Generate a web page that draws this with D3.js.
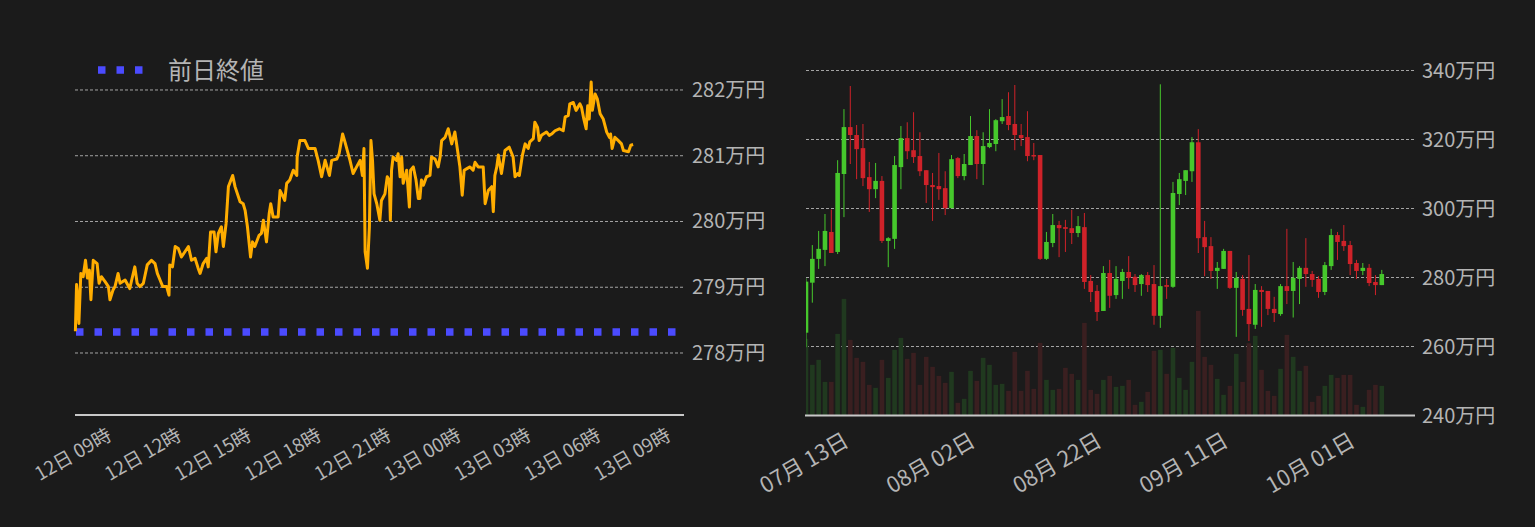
<!DOCTYPE html>
<html><head><meta charset="utf-8">
<script src="https://cdn.jsdelivr.net/npm/d3@7"></script>
<style>
html,body{margin:0;padding:0;background:#1b1b1b;}
svg{display:block;}
text{font-family:"Noto Sans CJK JP","Noto Sans",sans-serif;fill:#b4b4b4;}
</style></head>
<body><svg id="c" width="1535" height="527"></svg>
<script>
// ---------- Left chart: intraday line (minutes since 12日 00:00) ----------
const lineMinutes = [446,449,452,455,460,466,472,477,482,486,492,502,507,513,522,531,535,543,548,556,561,574,586,591,599,605,612,621,631,642,651,657,664,671,681,687,689,696,703,711,719,728,737,745,754,762,767,775,784,788,794,803,808,814,822,827,834,840,851,857,870,878,883,889,897,902,908,919,925,930,938,945,949,955,968,973,979,985,990,998,1007,1016,1017,1024,1037,1046,1063,1071,1080,1089,1100,1106,1119,1125,1134,1140,1153,1161,1170,1179,1185,1189,1192,1198,1203,1207,1211,1215,1222,1230,1234,1243,1249,1254,1257,1260,1264,1273,1277,1282,1286,1290,1299,1306,1309,1316,1323,1329,1333,1337,1342,1350,1359,1363,1372,1380,1385,1389,1398,1406,1415,1423,1430,1436,1442,1447,1453,1462,1470,1475,1483,1496,1501,1509,1518,1522,1526,1531,1535,1543,1552,1563,1573,1578,1585,1589,1597,1604,1612,1616,1625,1629,1636,1640,1646,1659,1666,1672,1681,1692,1702,1707,1715,1719,1728,1735,1745,1749,1755,1761,1765,1769,1774,1777,1784,1790,1797,1805,1814,1821,1824,1828,1835,1844,1852,1857,1870,1876,1882];
const linePrices = [278.33,279.04,278.86,278.45,279.21,279.16,279.41,279.14,279.26,278.81,279.41,279.36,279.06,279.16,279.09,279.01,278.81,278.96,279.01,279.21,279.06,279.11,278.98,279.11,279.31,279.06,279.01,279.06,279.34,279.41,279.36,279.21,279.11,279.01,279.01,278.88,279.34,279.31,279.62,279.59,279.46,279.54,279.62,279.41,279.44,279.29,279.21,279.36,279.44,279.31,279.84,279.84,279.54,279.82,279.92,279.62,279.97,280.53,280.70,280.53,280.30,280.27,280.17,279.92,279.46,279.69,279.62,279.79,279.82,280.02,279.69,280.12,280.27,280.07,280.07,280.47,280.40,280.32,280.58,280.63,280.78,280.70,280.98,281.23,281.23,281.11,281.11,280.93,280.68,280.93,280.70,280.93,280.95,281.03,281.33,281.21,280.93,280.73,280.83,280.93,280.70,281.11,279.54,279.29,279.92,281.23,280.93,280.42,280.27,280.02,280.32,280.42,280.68,280.63,280.02,280.78,280.98,280.93,281.03,280.68,280.98,280.58,280.78,280.22,280.78,280.83,280.63,280.35,280.35,280.63,280.55,280.68,280.70,280.98,280.95,280.83,280.98,281.23,281.28,281.41,281.18,281.36,281.08,280.83,280.40,280.78,280.80,280.83,280.78,280.90,280.83,280.83,280.27,280.47,280.53,280.15,280.70,280.83,281.01,280.73,281.08,281.13,280.98,280.68,280.73,280.70,281.01,281.18,281.11,281.21,281.26,281.51,281.43,281.23,281.31,281.36,281.31,281.33,281.38,281.41,281.38,281.59,281.61,281.79,281.81,281.69,281.79,281.74,281.56,281.41,281.76,281.56,282.12,281.69,281.94,281.86,281.64,281.56,281.36,281.28,281.33,281.11,281.28,281.23,281.18,281.08,281.06,281.16,281.17];
const prevClose = 278.32;
const legendLabel = "前日終値";
const leftYTicks = [278, 279, 280, 281, 282];
const leftXTicks = ["2022-10-12T09:00","2022-10-12T12:00","2022-10-12T15:00","2022-10-12T18:00","2022-10-12T21:00","2022-10-13T00:00","2022-10-13T03:00","2022-10-13T06:00","2022-10-13T09:00"];

// ---------- Right chart: daily candles ----------
const candleStart = "2022-07-06";
const opens  = [264.0,278.5,285.4,288.0,293.2,287.4,310.0,323.6,321.3,317.5,309.1,305.6,308.0,290.6,291.2,312.0,320.4,316.9,315.2,311.1,306.8,306.5,305.9,300.1,314.6,309.4,312.6,321.0,312.9,317.8,318.7,325.3,326.8,324.5,321.3,320.7,315.5,315.5,285.4,290.0,295.2,294.6,294.3,292.9,294.6,279.0,276.1,270.3,281.3,274.9,279.0,281.6,280.2,278.1,280.7,278.1,268.9,277.8,277.3,304.2,308.0,310.8,319.2,291.7,289.1,281.9,282.5,287.7,277.0,279.6,270.9,266.3,276.4,276.1,270.9,269.4,277.5,276.1,279.6,282.8,281.0,279.6,275.8,283.3,292.3,290.6,289.4,284.2,281.9,282.8,278.7,277.8];
const highs  = [279.8,289.4,293.5,298.4,299.7,314.0,328.8,335.5,324.2,324.5,313.5,313.2,309.4,291.7,315.2,323.9,325.0,327.9,322.1,311.1,310.3,316.1,310.8,315.5,314.9,315.8,326.8,322.7,322.1,328.8,325.9,331.7,333.7,335.8,324.5,328.2,319.0,315.5,293.2,298.4,296.4,296.7,299.6,297.8,298.7,280.7,277.8,283.3,285.1,283.3,282.5,286.2,281.0,281.0,281.6,283.6,336.0,279.6,307.7,310.3,311.1,320.7,323.0,296.4,291.7,284.5,288.3,287.7,281.6,280.7,286.5,278.1,277.5,276.1,274.4,278.1,294.1,284.5,283.3,291.4,281.9,280.4,284.5,294.1,293.2,295.2,290.6,285.1,284.2,283.9,280.7,282.2];
const lows   = [259.8,272.7,282.5,283.3,287.1,286.8,297.5,312.9,308.5,306.5,299.0,303.0,290.0,283.0,288.3,305.6,314.3,313.2,309.4,301.6,296.4,302.5,298.1,300.1,308.8,308.2,312.6,308.5,306.8,317.5,316.6,324.5,322.7,316.9,318.1,313.7,314.0,285.1,285.1,288.8,285.9,287.4,289.7,291.7,276.7,272.9,267.4,270.3,271.2,273.8,273.8,276.7,275.8,274.7,275.8,266.3,265.4,273.8,277.0,301.0,303.9,307.7,287.1,280.4,279.6,276.7,282.5,276.7,262.8,268.9,261.6,265.1,265.7,269.1,267.1,268.9,272.3,268.4,272.3,277.3,277.3,274.1,274.9,282.2,285.1,287.7,280.7,279.6,280.7,277.5,274.9,277.8];
const closes = [278.8,285.4,288.3,293.5,287.1,310.3,323.6,321.3,317.2,308.8,305.6,308.0,290.6,291.4,312.6,320.4,316.6,314.9,310.8,306.8,306.2,305.6,300.1,314.3,309.4,312.9,321.0,312.9,318.1,319.0,325.6,326.5,324.2,321.3,320.4,315.2,315.2,285.4,290.3,295.2,294.3,294.1,292.9,294.9,278.7,275.8,270.0,281.3,274.7,279.6,281.6,279.9,277.8,280.7,277.8,268.9,277.5,277.3,304.5,308.5,311.1,319.2,291.4,288.8,281.9,282.8,287.7,277.0,279.9,270.6,266.5,276.4,275.8,270.9,269.7,277.5,276.1,279.9,282.8,281.0,279.3,275.8,283.6,292.3,290.3,289.1,283.9,281.9,282.8,278.4,277.8,281.0];
const volumes = [230,152,167,101,101,245,350,227,173,161,92,83,167,113,197,233,170,188,92,176,146,119,98,131,38,50,134,104,173,152,92,95,74,191,74,134,80,218,107,77,80,143,125,107,278,77,65,107,119,86,89,107,32,41,71,194,197,125,203,113,77,161,314,176,152,110,62,89,185,101,217,239,137,74,59,140,242,176,134,149,41,59,89,122,113,122,122,32,26,77,92,89];
const rightYTicks = [240, 260, 280, 300, 320, 340];
const rightXTicks = ["2022-07-13","2022-08-02","2022-08-22","2022-09-11","2022-10-01"];

// ---------- drawing ----------
const svg = d3.select("#c");
svg.append("rect").attr("width",1535).attr("height",527).attr("fill","#1b1b1b");
const parse = d3.timeParse("%Y-%m-%dT%H:%M");
const base = new Date(2022, 9, 12, 0, 0);
const lineData = lineMinutes.map((m,i)=>({t:d3.timeMinute.offset(base, m), v:linePrices[i]}));

const L = {x0:75, x1:684, yTop:60, yBot:415};
const xL = d3.scaleTime().domain([new Date(2022,9,12,7,25), new Date(2022,9,13,9,33)]).range([L.x0, L.x1]);
const yL = d3.scaleLinear().domain([277.057, 282.456]).range([L.yBot, L.yTop]);

const gL = svg.append("g");
gL.selectAll("line.grid").data(leftYTicks).join("line")
  .attr("x1",L.x0).attr("x2",L.x1).attr("y1",d=>yL(d)).attr("y2",d=>yL(d))
  .attr("stroke","#c8c8c8").attr("stroke-width",0.8).attr("stroke-dasharray","3,2");
gL.selectAll("text.ylab").data(leftYTicks).join("text")
  .attr("x",L.x1+8).attr("y",d=>yL(d)).attr("dy","0.35em")
  .attr("font-size",20).text(d=>d+"万円");
gL.append("line").attr("x1",76).attr("x2",L.x1).attr("y1",yL(prevClose)).attr("y2",yL(prevClose))
  .attr("stroke","#4b4bff").attr("stroke-width",7.5).attr("stroke-dasharray","7.5,11");
gL.append("path").datum(lineData)
  .attr("d", d3.line().x(d=>xL(d.t)).y(d=>yL(d.v)))
  .attr("fill","none").attr("stroke","#ffad00").attr("stroke-width",3).attr("stroke-linejoin","round");
gL.append("line").attr("x1",L.x0).attr("x2",L.x1).attr("y1",L.yBot).attr("y2",L.yBot)
  .attr("stroke","#c8c8c8").attr("stroke-width",2);
const fmtL = d3.timeFormat("%d日 %H時");
gL.selectAll("text.xlab").data(leftXTicks.map(parse)).join("text")
  .attr("text-anchor","end").attr("font-size",19)
  .attr("transform",d=>`translate(${xL(d)+1},439) rotate(-30)`)
  .text(d=>fmtL(d));
gL.append("line").attr("x1",98).attr("x2",145).attr("y1",70).attr("y2",70)
  .attr("stroke","#4b4bff").attr("stroke-width",7.5).attr("stroke-dasharray","7.5,11");
gL.append("text").attr("x",168).attr("y",70).attr("dy","0.36em").attr("font-size",24).text(legendLabel);

// ---------- right ----------
const R = {x0:806, x1:1415, yTop:70.5, yBot:415.5};
const d0 = d3.timeParse("%Y-%m-%d")(candleStart);
const candles = opens.map((o,i)=>({t:d3.timeDay.offset(d0,i), o, h:highs[i], l:lows[i], c:closes[i], v:volumes[i]}));
const xR = d3.scaleTime().domain([d0, d3.timeHour.offset(d3.timeDay.offset(d0,96),6)]).range([R.x0, R.x1]);
const yR = d3.scaleLinear().domain([240, 340]).range([R.yBot, R.yTop]);
const yV = d3.scaleLinear().domain([0, d3.max(volumes)]).range([0, (R.yBot-R.yTop)*0.338]);

svg.append("clipPath").attr("id","clipR").append("rect")
  .attr("x",R.x0).attr("y",0).attr("width",R.x1-R.x0).attr("height",R.yBot);
const gR = svg.append("g");
gR.selectAll("line.grid").data(rightYTicks.filter(d=>d>240)).join("line")
  .attr("x1",R.x0).attr("x2",R.x1).attr("y1",d=>yR(d)).attr("y2",d=>yR(d))
  .attr("stroke","#c8c8c8").attr("stroke-width",0.8).attr("stroke-dasharray","3,2");
gR.selectAll("text.ylab").data(rightYTicks).join("text")
  .attr("x",R.x1+7).attr("y",d=>yR(d)).attr("dy","0.35em")
  .attr("font-size",20).text(d=>d+"万円");

const gc = gR.append("g").attr("clip-path","url(#clipR)");
const bw = 4.6;
const green="#46c82c", red="#cf2229", vgreen="#20391f", vred="#3a1f20";
gc.selectAll("rect.vol").data(candles).join("rect")
  .attr("x",d=>xR(d.t)-bw/2).attr("width",bw)
  .attr("y",d=>R.yBot-yV(d.v)).attr("height",d=>yV(d.v))
  .attr("fill",d=>d.c>=d.o?vgreen:vred);
gc.selectAll("line.wick").data(candles).join("line")
  .attr("x1",d=>xR(d.t)).attr("x2",d=>xR(d.t)).attr("y1",d=>yR(d.h)).attr("y2",d=>yR(d.l))
  .attr("stroke",d=>d.c>=d.o?green:red).attr("stroke-width",1);
gc.selectAll("rect.body").data(candles).join("rect")
  .attr("x",d=>xR(d.t)-bw/2).attr("width",bw)
  .attr("y",d=>yR(Math.max(d.o,d.c))).attr("height",d=>Math.max(1.5,Math.abs(yR(d.o)-yR(d.c))))
  .attr("fill",d=>d.c>=d.o?green:red);

gR.append("line").attr("x1",R.x0-1).attr("x2",R.x1).attr("y1",R.yBot).attr("y2",R.yBot)
  .attr("stroke","#c8c8c8").attr("stroke-width",2);
const fmtR = d3.timeFormat("%m月 %d日");
gR.selectAll("text.xlab").data(rightXTicks.map(d3.timeParse("%Y-%m-%d"))).join("text")
  .attr("text-anchor","end").attr("font-size",22)
  .attr("transform",d=>`translate(${xR(d)},445) rotate(-30)`)
  .text(d=>fmtR(d));
</script></body></html>
